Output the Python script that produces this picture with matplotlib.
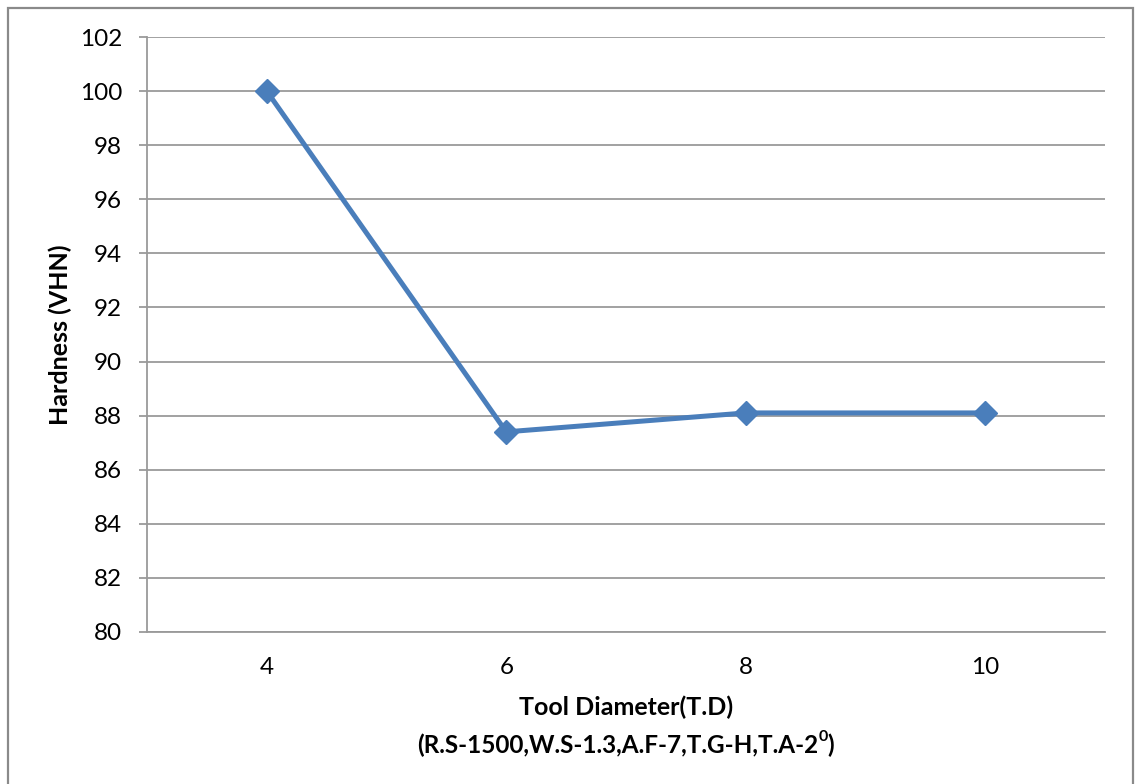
import matplotlib.pyplot as plt
from matplotlib.patches import Rectangle
from matplotlib import font_manager

plt.rcParams['font.family'] = ['Lato', 'DejaVu Sans']

# Hardness measured for each tool diameter
diameters = ["4", "6", "8", "10"]
hardness = [100.0, 87.4, 88.1, 88.1]

yticks = list(range(80, 103, 2))
grid_color = "#9a9a9a"
line_color = "#4a7ebb"

fig = plt.figure(figsize=(11.35, 7.84), dpi=100)
ax = fig.add_axes([0.1295, 0.1939, 0.8441, 0.7589])

x = list(range(len(diameters)))
ax.plot(x, hardness, color=line_color, linewidth=3.6, marker="D",
        markersize=12, markerfacecolor=line_color, markeredgecolor=line_color,
        zorder=3)

ax.set_xlim(-0.5, len(diameters) - 0.5)
ax.set_ylim(80, 102)
ax.set_xticks(x)
ax.set_xticklabels(diameters)
ax.set_yticks(yticks)

ax.yaxis.grid(True, color=grid_color, linewidth=1.3)
ax.set_axisbelow(True)

for side in ["top", "right"]:
    ax.spines[side].set_visible(False)
for side in ["left", "bottom"]:
    ax.spines[side].set_color(grid_color)
    ax.spines[side].set_linewidth(1.3)

ax.tick_params(axis="y", length=6, width=1.3, color=grid_color, pad=12,
               labelsize=17.5)
ax.tick_params(axis="x", length=0, pad=18, labelsize=17.5)

fig.text(0.053, 0.573, "Hardness (VHN)", rotation=90, ha="center",
         va="center", fontsize=18, fontweight="bold")
fig.text(0.5515, 0.098, "Tool Diameter(T.D)", ha="center", va="center",
         fontsize=18, fontweight="bold")

# second x-label line, with a raised small "0" for the degree of tilt
bold_path = font_manager.findfont(
    font_manager.FontProperties(family="Lato", weight="bold"))
bold = font_manager.FontProperties(fname=bold_path)
renderer = fig.canvas.get_renderer()
pieces = [("(R.S-1500,W.S-1.3,A.F-7,T.G-H,T.A-2", 17.5, 0.0),
          ("0", 11.5, 0.011),
          (")", 17.5, 0.0)]
texts = []
for s, size, dy in pieces:
    t = fig.text(0, 0.049 + dy, s, ha="left", va="center",
                 fontproperties=bold, fontsize=size)
    texts.append(t)
widths = [t.get_window_extent(renderer).width / fig.bbox.width for t in texts]
x0 = 0.5515 - sum(widths) / 2
for t, w in zip(texts, widths):
    t.set_x(x0)
    x0 += w

# chart frame
fig.patches.append(Rectangle((8 / 1135, -0.05), 1125 / 1135, 1.05 - 8 / 784,
                             transform=fig.transFigure, fill=False,
                             edgecolor="#8a8a8a", linewidth=1.6))

fig.savefig("out.png", dpi=100)
